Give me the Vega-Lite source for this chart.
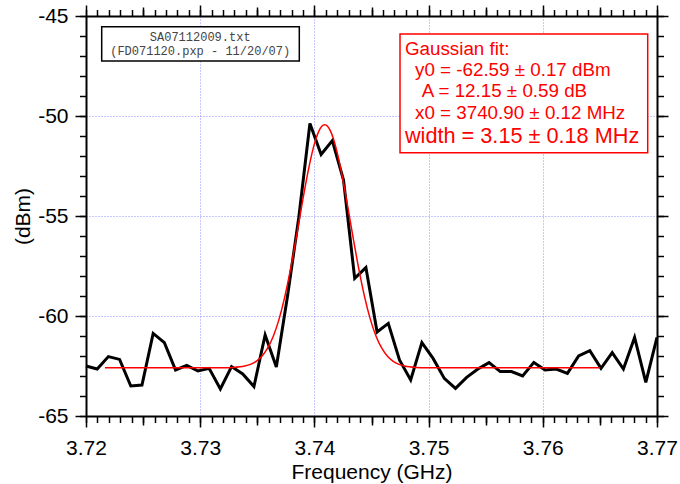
{
  "$schema": "https://vega.github.io/schema/vega-lite/v6.json",
  "width": 571,
  "height": 400,
  "autosize": "none",
  "padding": {"left": 86, "top": 16, "right": 23, "bottom": 68},
  "background": "white",
  "datasets": {
    "trace": [
      {"f": 3.72, "dbm": -62.5}, {"f": 3.72098, "dbm": -62.65}, {"f": 3.721961, "dbm": -62.03}, {"f": 3.722941, "dbm": -62.17},
      {"f": 3.723922, "dbm": -63.5}, {"f": 3.724902, "dbm": -63.45}, {"f": 3.725882, "dbm": -60.87}, {"f": 3.726863, "dbm": -61.33},
      {"f": 3.727843, "dbm": -62.7}, {"f": 3.728824, "dbm": -62.47}, {"f": 3.729804, "dbm": -62.75}, {"f": 3.730784, "dbm": -62.62},
      {"f": 3.731765, "dbm": -63.65}, {"f": 3.732745, "dbm": -62.53}, {"f": 3.733725, "dbm": -62.9}, {"f": 3.734706, "dbm": -63.53},
      {"f": 3.735686, "dbm": -60.95}, {"f": 3.736667, "dbm": -62.55}, {"f": 3.737647, "dbm": -59.0}, {"f": 3.738627, "dbm": -55.1},
      {"f": 3.739608, "dbm": -50.37}, {"f": 3.740588, "dbm": -51.92}, {"f": 3.741569, "dbm": -51.23}, {"f": 3.742549, "dbm": -53.2},
      {"f": 3.743529, "dbm": -58.12}, {"f": 3.74451, "dbm": -57.58}, {"f": 3.74549, "dbm": -60.8}, {"f": 3.746471, "dbm": -60.37},
      {"f": 3.747451, "dbm": -62.2}, {"f": 3.748431, "dbm": -63.2}, {"f": 3.749412, "dbm": -61.33}, {"f": 3.750392, "dbm": -62.12},
      {"f": 3.751373, "dbm": -63.12}, {"f": 3.752353, "dbm": -63.62}, {"f": 3.753333, "dbm": -63.07}, {"f": 3.754314, "dbm": -62.65},
      {"f": 3.755294, "dbm": -62.33}, {"f": 3.756275, "dbm": -62.78}, {"f": 3.757255, "dbm": -62.78}, {"f": 3.758235, "dbm": -63.0},
      {"f": 3.759216, "dbm": -62.32}, {"f": 3.760196, "dbm": -62.7}, {"f": 3.761176, "dbm": -62.65}, {"f": 3.762157, "dbm": -62.87},
      {"f": 3.763137, "dbm": -62.0}, {"f": 3.764118, "dbm": -61.73}, {"f": 3.765098, "dbm": -62.62}, {"f": 3.766078, "dbm": -61.83},
      {"f": 3.767059, "dbm": -62.65}, {"f": 3.768039, "dbm": -61.07}, {"f": 3.76902, "dbm": -63.32}, {"f": 3.77, "dbm": -61.07}
    ],
    "fit": [
      {"f": 3.72166, "dbm": -62.59}, {"f": 3.7309, "dbm": -62.59}, {"f": 3.7319, "dbm": -62.587}, {"f": 3.7329, "dbm": -62.571},
      {"f": 3.7339, "dbm": -62.503}, {"f": 3.7344, "dbm": -62.418}, {"f": 3.7349, "dbm": -62.267}, {"f": 3.7354, "dbm": -62.014},
      {"f": 3.7359, "dbm": -61.612}, {"f": 3.7364, "dbm": -61.012}, {"f": 3.7369, "dbm": -60.168}, {"f": 3.7374, "dbm": -59.055},
      {"f": 3.7379, "dbm": -57.685}, {"f": 3.7384, "dbm": -56.118}, {"f": 3.7389, "dbm": -54.471}, {"f": 3.7394, "dbm": -52.905},
      {"f": 3.7399, "dbm": -51.605}, {"f": 3.74015, "dbm": -51.11}, {"f": 3.7404, "dbm": -50.742}, {"f": 3.74065, "dbm": -50.516},
      {"f": 3.7409, "dbm": -50.44},
      {"f": 3.74115, "dbm": -50.516}, {"f": 3.7414, "dbm": -50.742}, {"f": 3.74165, "dbm": -51.11}, {"f": 3.7419, "dbm": -51.605},
      {"f": 3.7424, "dbm": -52.905}, {"f": 3.7429, "dbm": -54.471}, {"f": 3.7434, "dbm": -56.118}, {"f": 3.7439, "dbm": -57.685},
      {"f": 3.7444, "dbm": -59.055}, {"f": 3.7449, "dbm": -60.168}, {"f": 3.7454, "dbm": -61.012}, {"f": 3.7459, "dbm": -61.612},
      {"f": 3.7464, "dbm": -62.014}, {"f": 3.7469, "dbm": -62.267}, {"f": 3.7474, "dbm": -62.418}, {"f": 3.7479, "dbm": -62.503},
      {"f": 3.7489, "dbm": -62.571}, {"f": 3.7499, "dbm": -62.587}, {"f": 3.7509, "dbm": -62.59}, {"f": 3.765, "dbm": -62.59}
    ],
    "fileBox": [{"x1": 3.721375, "x2": 3.738678, "y1": -45.535, "y2": -47.25}],
    "fitBox": [{"x1": 3.747496, "x2": 3.769186, "y1": -45.9, "y2": -51.835}],
    "fileText": [
      {"x": 3.73, "y": -46.235, "t": "SA07112009.txt"},
      {"x": 3.73, "y": -46.95, "t": "(FD071120.pxp - 11/20/07)"}
    ],
    "fitText": [
      {"x": 3.74793, "y": -46.95, "t": "Gaussian fit:"},
      {"x": 3.74881, "y": -48.0, "t": "y0 = -62.59 ± 0.17 dBm"},
      {"x": 3.7494, "y": -49.05, "t": "A = 12.15 ± 0.59 dB"},
      {"x": 3.74881, "y": -50.135, "t": "x0 = 3740.90 ± 0.12 MHz"}
    ],
    "widthText": [
      {"x": 3.74793, "y": -51.335, "t": "width = 3.15 ± 0.18 MHz"}
    ]
  },
  "resolve": {"axis": {"x": "independent", "y": "independent"}},
  "layer": [
    {
      "data": {"name": "trace"},
      "mark": {"type": "line", "color": "black", "strokeWidth": 3},
      "encoding": {
        "x": {"field": "f", "type": "quantitative", "scale": {"domain": [3.72, 3.77], "nice": false, "zero": false},
          "axis": {"orient": "bottom", "values": [3.72, 3.73, 3.74, 3.75, 3.76, 3.77], "format": ".2f", "tickSize": 11, "labelPadding": 10, "labelFlush": false, "labelOverlap": false, "title": "Frequency (GHz)", "titlePadding": 3, "grid": true, "domain": true}},
        "y": {"field": "dbm", "type": "quantitative", "scale": {"domain": [-65, -45], "nice": false, "zero": false},
          "axis": {"orient": "left", "values": [-65, -60, -55, -50, -45], "format": "d", "labelExpr": "replace(datum.label, '\u2212', '-')", "tickSize": 11, "labelPadding": 7, "labelOverlap": false, "title": "(dBm)", "titlePadding": 4, "grid": true, "domain": true}}
      }
    },
    {
      "data": {"name": "fit"},
      "mark": {"type": "line", "color": "#ff0000", "strokeWidth": 1.5, "interpolate": "monotone"},
      "encoding": {
        "x": {"field": "f", "type": "quantitative", "scale": {"domain": [3.72, 3.77], "nice": false, "zero": false},
          "axis": {"orient": "bottom", "tickCount": 50, "tickSize": 6.5, "labels": false, "domain": false, "grid": false, "title": null}},
        "y": {"field": "dbm", "type": "quantitative", "scale": {"domain": [-65, -45], "nice": false, "zero": false},
          "axis": {"orient": "left", "tickCount": 20, "tickSize": 6.5, "labels": false, "domain": false, "grid": false, "title": null}}
      }
    },
    {
      "data": {"name": "fileBox"},
      "mark": {"type": "rect", "fill": "white", "stroke": "black", "strokeWidth": 1.5},
      "encoding": {
        "x": {"field": "x1", "type": "quantitative", "scale": {"domain": [3.72, 3.77], "nice": false, "zero": false},
          "axis": {"orient": "bottom", "values": [3.725, 3.735, 3.745, 3.755, 3.765], "tickSize": 9, "labels": false, "domain": false, "grid": false, "title": null}},
        "x2": {"field": "x2"},
        "y": {"field": "y1", "type": "quantitative", "scale": {"domain": [-65, -45], "nice": false, "zero": false},
          "axis": {"orient": "right", "values": [-65, -60, -55, -50, -45], "tickSize": 11, "labels": false, "domain": true, "grid": false, "title": null}},
        "y2": {"field": "y2"}
      }
    },
    {
      "data": {"name": "fitBox"},
      "mark": {"type": "rect", "fill": "white", "stroke": "#ff0000", "strokeWidth": 1.5},
      "encoding": {
        "x": {"field": "x1", "type": "quantitative", "scale": {"domain": [3.72, 3.77], "nice": false, "zero": false},
          "axis": {"orient": "top", "values": [3.72, 3.73, 3.74, 3.75, 3.76, 3.77], "tickSize": 11, "labels": false, "domain": true, "grid": false, "title": null}},
        "x2": {"field": "x2"},
        "y": {"field": "y1", "type": "quantitative", "scale": {"domain": [-65, -45], "nice": false, "zero": false},
          "axis": {"orient": "right", "tickCount": 20, "tickSize": 6.5, "labels": false, "domain": false, "grid": false, "title": null}},
        "y2": {"field": "y2"}
      }
    },
    {
      "data": {"name": "fileText"},
      "mark": {"type": "text", "font": "Liberation Mono", "fontSize": 12, "color": "#444444", "align": "center", "baseline": "alphabetic"},
      "encoding": {
        "x": {"field": "x", "type": "quantitative", "scale": {"domain": [3.72, 3.77], "nice": false, "zero": false},
          "axis": {"orient": "top", "values": [3.725, 3.735, 3.745, 3.755, 3.765], "tickSize": 9, "labels": false, "domain": false, "grid": false, "title": null}},
        "y": {"field": "y", "type": "quantitative", "scale": {"domain": [-65, -45], "nice": false, "zero": false}, "axis": null},
        "text": {"field": "t"}
      }
    },
    {
      "data": {"name": "fitText"},
      "mark": {"type": "text", "font": "Liberation Sans", "fontSize": 18.8, "color": "#ff0000", "align": "left", "baseline": "alphabetic"},
      "encoding": {
        "x": {"field": "x", "type": "quantitative", "scale": {"domain": [3.72, 3.77], "nice": false, "zero": false},
          "axis": {"orient": "top", "tickCount": 50, "tickSize": 6.5, "labels": false, "domain": false, "grid": false, "title": null}},
        "y": {"field": "y", "type": "quantitative", "scale": {"domain": [-65, -45], "nice": false, "zero": false}, "axis": null},
        "text": {"field": "t"}
      }
    },
    {
      "data": {"name": "widthText"},
      "mark": {"type": "text", "font": "Liberation Sans", "fontSize": 21.7, "color": "#ff0000", "align": "left", "baseline": "alphabetic"},
      "encoding": {
        "x": {"field": "x", "type": "quantitative", "scale": {"domain": [3.72, 3.77], "nice": false, "zero": false}, "axis": null},
        "y": {"field": "y", "type": "quantitative", "scale": {"domain": [-65, -45], "nice": false, "zero": false}, "axis": null},
        "text": {"field": "t"}
      }
    }
  ],
  "config": {
    "view": {"stroke": null},
    "font": "Liberation Sans",
    "axis": {
      "domainColor": "black",
      "domainWidth": 2,
      "tickColor": "black",
      "tickWidth": 1.5,
      "labelColor": "black",
      "labelFont": "Liberation Sans",
      "labelFontSize": 21,
      "titleFont": "Liberation Sans",
      "titleFontSize": 21,
      "titleFontWeight": "normal",
      "titleColor": "black",
      "gridColor": "#8f8fff",
      "gridDash": [1, 2],
      "gridWidth": 1,
      "gridOpacity": 1
    }
  }
}
